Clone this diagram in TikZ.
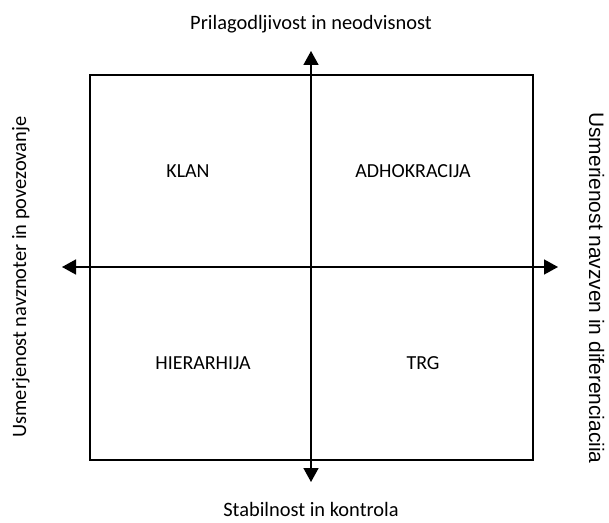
\documentclass[tikz,border=0pt]{standalone}
\usepackage{fontspec}
\setmainfont{Carlito}
\newfontfamily\arialfont{Liberation Sans}
\usetikzlibrary{arrows.meta}
\tikzset{
  lbl/.style={inner sep=0pt, font=\fontsize{20.5}{24}\selectfont},
  quad/.style={inner sep=0pt, font=\fontsize{20}{24}\selectfont},
  frame/.style={draw, line width=1.6bp, inner sep=0pt},
  axis/.style={line width=1.6bp, {Triangle[length=14bp,width=15bp]}-{Triangle[length=14bp,width=15bp]}}
}
\begin{document}
\begin{tikzpicture}[x=1bp,y=-1bp]
\useasboundingbox (0,0) rectangle (609,523);
\node[frame, minimum width=443bp, minimum height=385bp] (box) at (311.5,267.5) {};
\coordinate (vtop) at (311,51);
\coordinate (vbot) at (311,482);
\coordinate (hl) at (62,267);
\coordinate (hr) at (558,267);
\draw[axis] (vtop) -- (vbot);
\draw[axis] (hl) -- (hr);
\node[quad] (klan) at (188,171) {KLAN};
\node[quad] (adh) at (413,171) {ADHOKRACIJA};
\node[quad] (hier) at (203,363) {HIERARHIJA};
\node[quad] (trg) at (423,363) {TRG};
\node[lbl] (top) at (311,24) {Prilagodljivost in neodvisnost};
\node[lbl] (bot) at (311,509) {Stabilnost in kontrola};
\node[lbl, rotate=90, anchor=base] (left) at (26,277) {Usmerjenost navznoter in povezovanje};
\begin{scope}
\clip (589,0) rectangle (609,523);
\node[inner sep=0pt, rotate=-90, anchor=base, font=\arialfont\fontsize{21}{24}\selectfont] (right) at (589,288) {Usmerjenost navzven in diferenciacija};
\end{scope}
\end{tikzpicture}
\end{document}
